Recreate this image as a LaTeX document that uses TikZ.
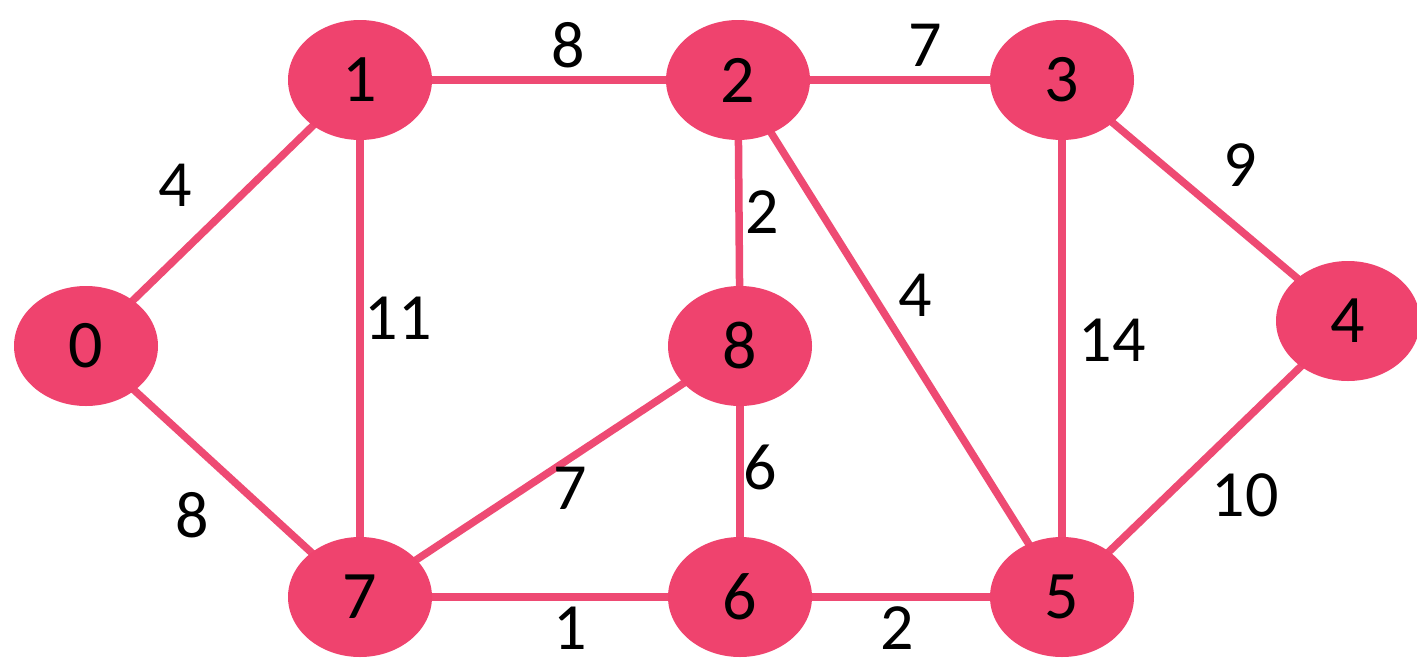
\documentclass[tikz,border=0pt]{standalone}
\usepackage{fontspec}
\setmainfont{Carlito}
\usetikzlibrary{shapes.geometric}
\definecolor{nodepink}{HTML}{EF436E}
\definecolor{edgepink}{HTML}{EE4A73}
\begin{document}
\begin{tikzpicture}[x=1pt,y=-1pt,
  vert/.style={ellipse,fill=nodepink,minimum width=144pt,minimum height=120pt,inner sep=0pt,font=\fontsize{68}{68}\selectfont},
  edge/.style={draw=edgepink,line width=7.5pt},
  wt/.style={font=\fontsize{66}{66}\selectfont,inner sep=0pt}]
\useasboundingbox[fill=white] (0,0) rectangle (1417,670);
% edges
\coordinate (c0) at (86,346);
\coordinate (c1) at (360,80);
\coordinate (c2) at (738,80);
\coordinate (c3) at (1062,80);
\coordinate (c4) at (1348,321);
\coordinate (c8) at (740,346);
\coordinate (c7) at (360,597);
\coordinate (c6) at (740,597);
\coordinate (c5) at (1062,597);
\draw[edge] (c0) -- (c1);
\draw[edge] (c0) -- (c7);
\draw[edge] (c1) -- (c2);
\draw[edge] (c1) -- (c7);
\draw[edge] (c2) -- (c3);
\draw[edge] (c2) -- (c8);
\draw[edge] (c2) -- (c5);
\draw[edge] (c3) -- (c4);
\draw[edge] (c3) -- (c5);
\draw[edge] (c4) -- (c5);
\draw[edge] (c8) -- (c7);
\draw[edge] (c8) -- (c6);
\draw[edge] (c7) -- (c6);
\draw[edge] (c6) -- (c5);
% vertices
\node[vert] (n0) at (c0) {0};
\node[vert] (n1) at (c1) {1};
\node[vert] (n2) at (c2) {2};
\node[vert] (n3) at (c3) {3};
\node[vert] (n4) at (c4) {4};
\node[vert] (n8) at (c8) {8};
\node[vert] (n7) at (c7) {7};
\node[vert] (n6) at (c6) {6};
\node[vert] (n5) at (c5) {5};
% weights
\node[wt] (w01) at (175,185) {4};
\node[wt] (w07) at (192,515) {8};
\node[wt] (w12) at (568,45) {8};
\node[wt] (w17) at (398,318) {11};
\node[wt] (w23) at (925,45) {7};
\node[wt] (w28) at (762,212) {2};
\node[wt] (w25) at (915,295) {4};
\node[wt] (w34) at (1240,165) {9};
\node[wt] (w35) at (1112,340) {14};
\node[wt] (w45) at (1245,495) {10};
\node[wt] (w87) at (570,488) {7};
\node[wt] (w86) at (760,467) {6};
\node[wt] (w76) at (570,628) {1};
\node[wt] (w65) at (897,628) {2};
\end{tikzpicture}
\end{document}
